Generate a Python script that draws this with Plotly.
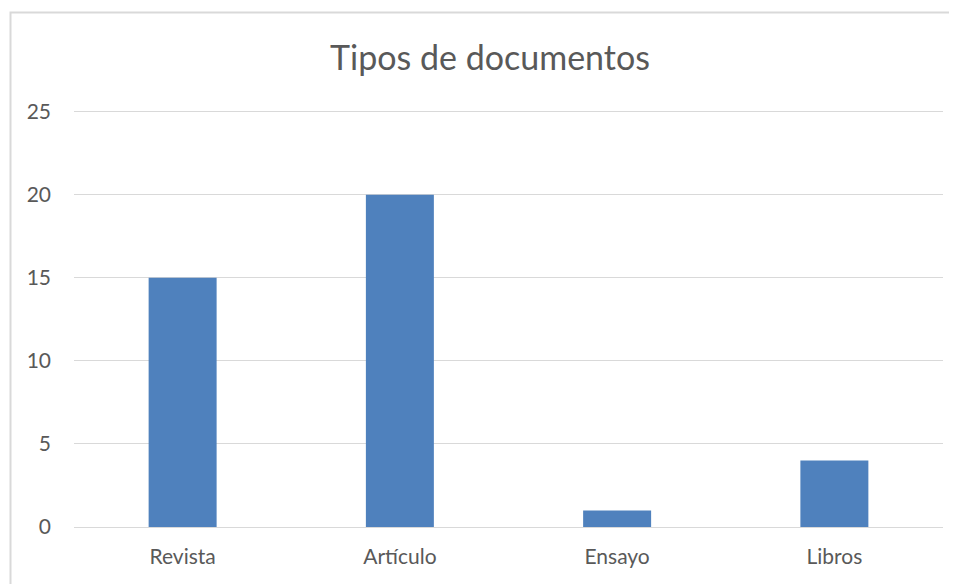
import plotly.graph_objects as go

categorias = ["Revista", "Artículo", "Ensayo", "Libros"]
cantidad = [15, 20, 1, 4]
ticks_y = [0, 5, 10, 15, 20, 25]

GRIS = "#595959"
LINEA = "#d9d9d9"

# la página deja 8 px de margen, por eso la figura es 8 px más pequeña
ANCHO, ALTO = 949, 576
M_IZQ, M_DER, M_SUP, M_INF = 66, 14, 102, 57
ancho_plot = ANCHO - M_IZQ - M_DER
alto_plot = ALTO - M_SUP - M_INF

fig = go.Figure()

fig.add_trace(go.Bar(
    x=categorias,
    y=cantidad,
    marker=dict(color="#4f81bd", line=dict(width=0)),
    hoverinfo="x+y",
))

fig.update_layout(
    width=ANCHO,
    height=ALTO,
    paper_bgcolor="white",
    plot_bgcolor="white",
    font=dict(family="Lato, Calibri, sans-serif", color=GRIS, size=21),
    title=dict(
        text="Tipos de documentos",
        x=482 / ANCHO, xanchor="center",
        y=1 - 50 / ALTO, yanchor="middle",
        font=dict(size=34, color=GRIS),
    ),
    bargap=0.687,
    showlegend=False,
    margin=dict(l=M_IZQ, r=M_DER, t=M_SUP, b=M_INF),
    xaxis=dict(
        showline=False,
        showgrid=False,
        ticks="",
        ticklabelstandoff=15,
    ),
    yaxis=dict(
        # un poco más de 25 para que se dibuje la línea de 25
        range=[0, 25.1],
        tickvals=ticks_y,
        showgrid=True,
        gridcolor=LINEA,
        gridwidth=1,
        zeroline=True,
        zerolinecolor=LINEA,
        zerolinewidth=1,
        showline=False,
        ticks="",
        ticklabelstandoff=22,
    ),
    shapes=[
        # marco del gráfico (se corta en los bordes derecho e inferior)
        dict(
            type="rect", xref="paper", yref="paper",
            x0=(2.5 - M_IZQ) / ancho_plot, x1=1.2,
            y0=-0.3, y1=(alto_plot + M_SUP - 4.5) / alto_plot,
            line=dict(color=LINEA, width=2),
            fillcolor="rgba(0,0,0,0)",
            layer="below",
        )
    ],
)

fig.write_html("out.html")
